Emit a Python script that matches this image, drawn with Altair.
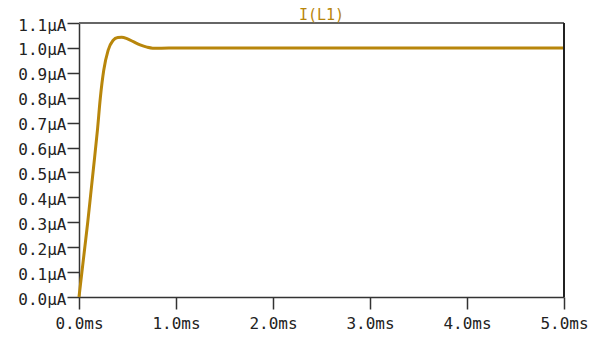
import altair as alt
import pandas as pd

# time in ms, current in µA
t_ms = [0.0, 0.03, 0.06, 0.09, 0.12, 0.15, 0.19, 0.22, 0.255, 0.30, 0.35, 0.40,
        0.44, 0.50, 0.56, 0.63, 0.70, 0.76, 0.85, 1.0, 2.0, 3.0, 4.0, 5.0]
i_ua = [0.0, 0.10, 0.20, 0.30, 0.41, 0.52, 0.67, 0.80, 0.91, 0.99, 1.03, 1.042,
        1.043, 1.036, 1.025, 1.012, 1.003, 0.999, 0.999, 1.0, 1.0, 1.0, 1.0, 1.0]

x_ticks = [0.0, 1.0, 2.0, 3.0, 4.0, 5.0]
y_ticks = [0.0, 0.1, 0.2, 0.3, 0.4, 0.5, 0.6, 0.7, 0.8, 0.9, 1.0, 1.1]

df = pd.DataFrame({"t": t_ms, "i": i_ua})

FONT = "DejaVu Sans Mono"
GOLD = "#B8860B"

xs = alt.Scale(domain=[0, 5], nice=False, zero=False)
ys = alt.Scale(domain=[0, 1.1], nice=False)

common = dict(grid=False, tickSize=12, domainColor="#333", tickColor="#333",
              labelFont=FONT, labelFontSize=16, labelColor="#222",
              domainWidth=1.5, tickWidth=1.5, labelOverlap=False,
              labelFlush=False, labelBound=False)

x_axis = alt.Axis(values=x_ticks, labelExpr="format(datum.value, '.1f') + 'ms'",
                  labelPadding=6, **common)
y_axis = alt.Axis(values=y_ticks, labelExpr="format(datum.value, '.1f') + 'µA'",
                  labelPadding=1, labelOffset=2, **common)

line = alt.Chart(df).mark_line(color=GOLD, strokeWidth=3, interpolate="monotone").encode(
    x=alt.X("t:Q", scale=xs, title=None, axis=x_axis),
    y=alt.Y("i:Q", scale=ys, title=None, axis=y_axis),
)

top = alt.Chart(df).mark_rule(color="#666", strokeWidth=2).encode(
    y=alt.Y(datum=1.1, scale=ys, title=None, axis=y_axis),
    x=alt.value(0), x2=alt.value(485))
right = alt.Chart(df).mark_rule(color="#222", strokeWidth=1.5).encode(
    x=alt.X(datum=5.0, scale=xs, title=None, axis=x_axis),
    y=alt.value(0), y2=alt.value(274))

chart = alt.layer(line, top, right).properties(
    width=485, height=274,
    autosize=alt.AutoSizeParams(type="none"),
    padding={"left": 71, "top": 15, "right": 30, "bottom": 40},
    title=alt.TitleParams("I(L1)", font=FONT, fontSize=15, fontWeight="normal",
                          color=GOLD, anchor="middle", offset=2, dy=8),
).configure_view(stroke=None).configure(background="white")

chart.save("out.html", embed_options={"renderer": "svg", "actions": False})
